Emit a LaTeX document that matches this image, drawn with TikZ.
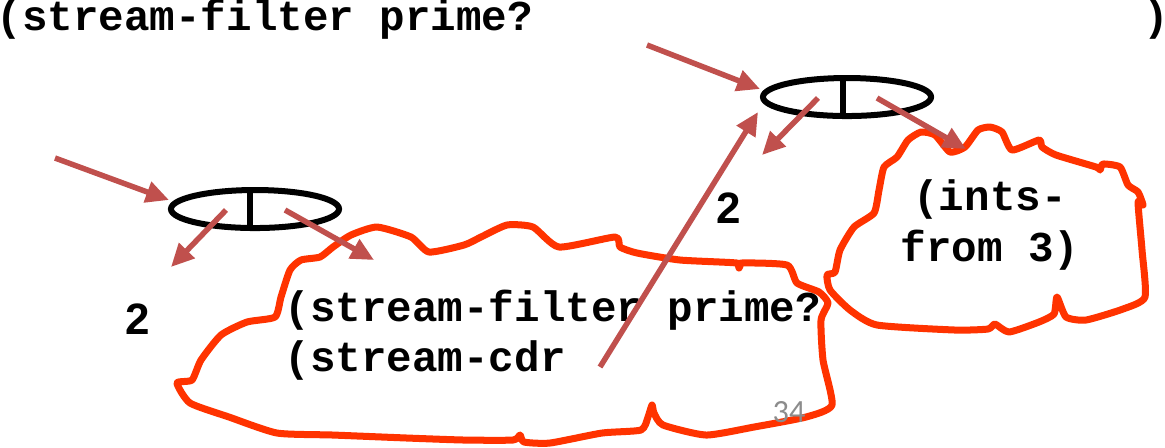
\documentclass[tikz,border=0pt]{standalone}
\usepackage{fontspec}
\setmonofont{Liberation Mono}
\newfontfamily\countfont{Liberation Sans}
\newfontfamily\pagefont{Carlito}
\usetikzlibrary{shapes.geometric,arrows.meta}
\definecolor{ptrred}{RGB}{192,80,77}
\definecolor{cloudred}{RGB}{255,51,0}
\definecolor{pagegray}{RGB}{140,140,140}

\begin{document}
\begin{tikzpicture}[x=0.01cm, y=-0.01cm,
  code/.style={font=\fontsize{12.1}{14.4}\selectfont\ttfamily\bfseries, inner sep=0pt},
  cell/.style={ellipse, draw=black, line width=0.06cm, minimum width=1.68cm,
               minimum height=0.38cm, inner sep=0pt},
  ptr/.style={draw=ptrred, line width=0.055cm, -{Triangle[length=0.23cm,width=0.21cm]}},
  cloud/.style={draw=cloudred, line width=0.07cm, line join=round},
  count/.style={font=\fontsize{12.5}{15}\selectfont\countfont\bfseries, inner sep=0pt},
]
\useasboundingbox (0,0) rectangle (1165,447);

% --- title line ---
\node[code, anchor=base west] (title) at (-4,30) {(stream-filter prime?};
\node[code, anchor=base west] (close) at (1143,30) {)};

% --- clouds (delayed expressions) ---
\draw[cloud] plot[smooth cycle, tension=0.35] coordinates {
  (177,383) (192,380) (201,360) (221,335) (247,322) (275,317) (281,297) (290,270)
  (301,260) (320,257) (333,247) (351,235) (377,227) (411,237) (429,252) (464,245)
  (481,237) (507,225) (533,227) (559,247) (615,237) (620,247) (637,253) (680,260)
  (737,263) (739,268) (741,263) (787,265) (797,283) (819,292) (828,303) (821,320)
  (823,360) (832,405) (806,417) (754,427) (706,435) (663,425) (654,413) (652,405)
  (648,417) (641,430) (602,433) (550,443) (524,442) (520,435) (513,440) (464,440)
  (407,438) (333,435) (277,433) (229,417) (190,403)};
\draw[cloud] plot[smooth cycle, tension=0.35] coordinates {
  (827,275) (835,272) (840,250) (854,227) (874,213) (879,190) (884,167) (897,157)
  (908,140) (921,132) (935,135) (950,152) (965,147) (978,130) (990,127) (1002,132)
  (1012,150) (1039,140) (1042,147) (1056,155) (1096,167) (1100,170) (1103,164)
  (1120,167) (1128,185) (1138,192) (1143,205) (1138,202) (1142,250) (1145,297)
  (1123,309) (1086,320) (1066,317) (1057,297) (1054,314) (1039,322) (1009,332)
  (995,324) (988,329) (955,330) (877,325) (850,310) (830,290)};

\node[code, anchor=base west] (body1) at (284,321) {(stream-filter prime?};
\node[code, anchor=base west] (body2) at (284,371) {(stream-cdr};
\node[code, anchor=base] (ints1) at (990,210) {(ints-};
\node[code, anchor=base] (ints2) at (990,261) {from 3)};

% --- cons cells ---
\node[cell] (lcell) at (255,209) {};
\node[cell] (rcell) at (847,97) {};
\draw[line width=0.06cm] ([xshift=-0.05cm]lcell.north) -- ([xshift=-0.05cm]lcell.south);
\draw[line width=0.06cm] ([xshift=-0.04cm]rcell.north) -- ([xshift=-0.04cm]rcell.south);

\node[count] (cnt1) at (138,319) {2};
\node[count] (cnt2) at (729,208) {2};
\node[font=\fontsize{9.2}{11}\selectfont\pagefont, text=pagegray, inner sep=0pt] (page) at (789,412) {34};

% --- pointers ---
\coordinate (lsrc) at (55,158);   \coordinate (lhit) at (169,200);
\coordinate (lcar) at (226,210);  \coordinate (lcarto) at (171,267);
\coordinate (lcdr) at (285,210);  \coordinate (lcdrto) at (374,260);
\coordinate (rsrc) at (647,45);   \coordinate (rhit) at (760,89);
\coordinate (rcar) at (818,98);   \coordinate (rcarto) at (762,155);
\coordinate (rcdr) at (877,98);   \coordinate (rcdrto) at (966,149);
\coordinate (tail) at (600,367);  \coordinate (rback) at (758,112);

\draw[ptr] (lsrc) -- (lhit);
\draw[ptr] (lcar) -- (lcarto);
\draw[ptr] (lcdr) -- (lcdrto);
\draw[ptr] (rsrc) -- (rhit);
\draw[ptr] (rcar) -- (rcarto);
\draw[ptr] (rcdr) -- (rcdrto);
\draw[ptr] (tail) -- (rback);

\end{tikzpicture}
\end{document}
